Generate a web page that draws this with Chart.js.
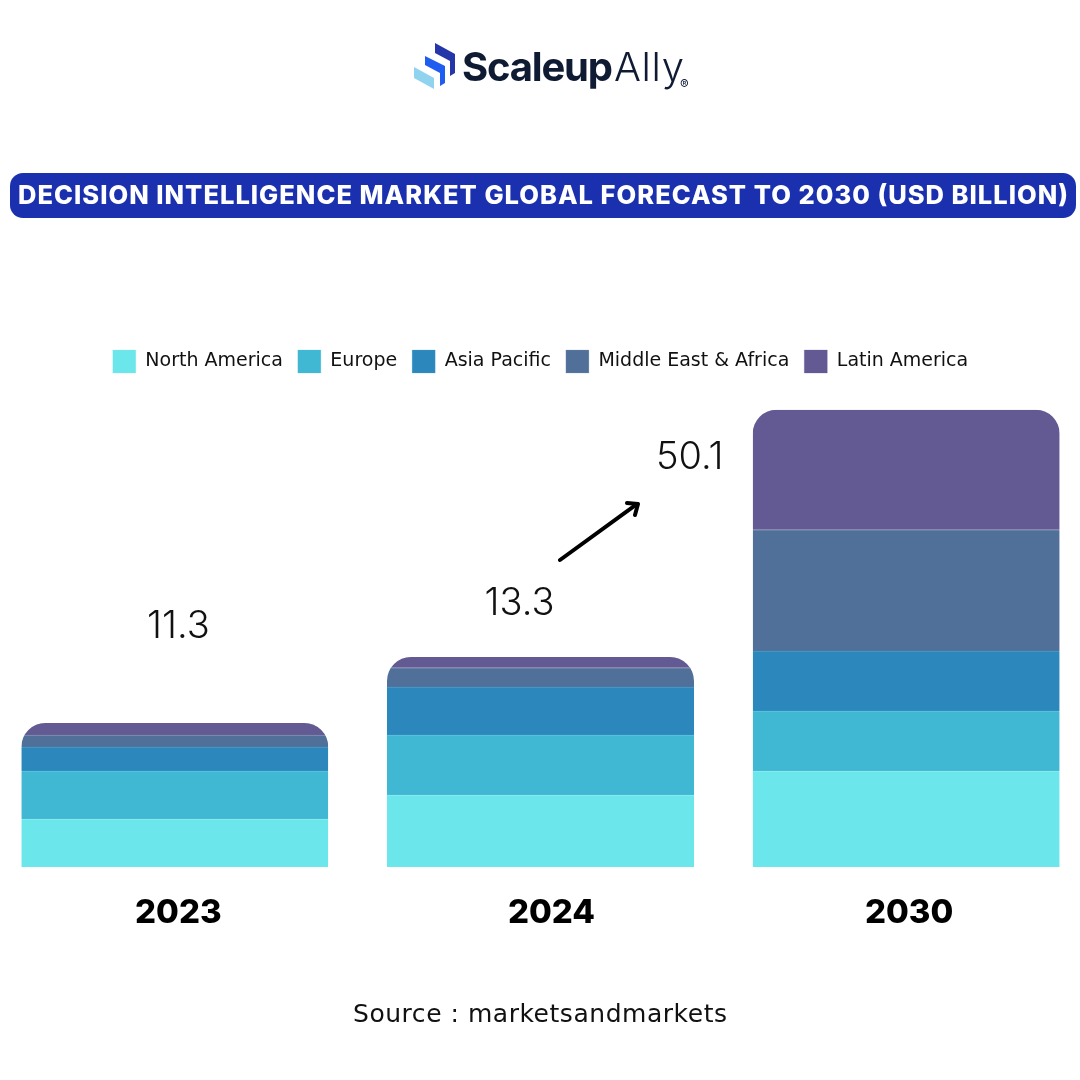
<!DOCTYPE html>
<html>
<head>
<meta charset="utf-8">
<title>Decision Intelligence Market</title>
<script src="https://cdn.jsdelivr.net/npm/chart.js@4"></script>
<style>
  html, body { margin: 0; padding: 0; background: #fff; width: 1080px; height: 1080px; overflow: hidden; }
  #chart { position: absolute; left: -21.5px; top: 335px; }
  #overlay { position: absolute; left: 0; top: 0; }
</style>
</head>
<body>
<canvas id="chart" width="1120" height="623"></canvas>
<svg id="overlay" width="1080" height="1080" viewBox="0 0 1080 1080">
  <polygon points="414,67 434,78 434,89 414,78" fill="#8FD3EE"/>
  <polygon points="425,56 445,66 445,83 440,86 440,73 425,65" fill="#1F5CF0"/>
  <polygon points="435,43 455,54 455,73 450,76 450,61 435,53" fill="#2536A8"/>
  <text x="462" y="81" font-family="Inter" font-weight="700" font-size="40" fill="#0F1A33" textLength="151">Scaleup</text>
  <text x="614" y="81" font-family="Inter" font-weight="300" font-size="40" fill="#0F1A33" textLength="70">Ally</text>
  <text x="680" y="89" font-family="Inter" font-size="13" fill="#0F1A33">®</text>

  <rect x="10" y="173" width="1066" height="45" rx="13" fill="#1A30AE"/>
  <text x="18" y="204" font-family="Inter" font-weight="800" font-size="25.5" fill="#fff" textLength="1050">DECISION INTELLIGENCE MARKET GLOBAL FORECAST TO 2030 (USD BILLION)</text>

  <g stroke="#000" stroke-width="4" fill="none" stroke-linecap="round" stroke-linejoin="round">
    <line x1="560" y1="560" x2="637" y2="504"/>
    <polyline points="627,503 638,504 635,515"/>
  </g>

  <text x="353" y="1022" font-family="DejaVu Sans" font-size="25" fill="#111" textLength="374">Source : marketsandmarkets</text>
</svg>
<script>
const categories = ['2023', '2024', '2030'];
const totals = ['11.3', '13.3', '50.1'];
const northAmerica = [4, 6, 8];
const europe = [4, 5, 5];
const asiaPacific = [2, 4, 5];
const middleEastAfrica = [1, 1.6, 10.1];
const latinAmerica = [1, 0.9, 10];

// label placement relative to each bar
const totalOffsets = [[3.5, -96], [-21, -53], [-216.5, 48]];
const tickOffsets = [3.5, 11, 3];

function series(label, data, color, seam) {
    return {
        label: label,
        data: data,
        backgroundColor: color,
        borderColor: seam,
        borderWidth: { top: 1, left: 0, right: 0, bottom: 0 },
        borderSkipped: false,
        stack: 'a',
        barThickness: 307
    };
}

function stackTop(i) {
    return northAmerica[i] + europe[i] + asiaPacific[i] + middleEastAfrica[i] + latinAmerica[i];
}

// one rounded shape per stack, the corners run across several segments
const roundedStacks = {
    id: 'roundedStacks',
    beforeDatasetsDraw(chart) {
        const ctx = chart.ctx, x = chart.scales.x, y = chart.scales.y;
        ctx.save();
        ctx.beginPath();
        categories.forEach((c, i) => {
            const cx = x.getPixelForValue(i);
            ctx.roundRect(cx - 153.5, y.getPixelForValue(stackTop(i)), 307,
                y.getPixelForValue(0) - y.getPixelForValue(stackTop(i)), [24, 24, 0, 0]);
        });
        ctx.clip();
    },
    afterDatasetsDraw(chart) {
        chart.ctx.restore();
    }
};

const barLabels = {
    id: 'barLabels',
    afterDraw(chart) {
        const ctx = chart.ctx, x = chart.scales.x, y = chart.scales.y;
        ctx.save();
        ctx.textAlign = 'center';
        ctx.textBaseline = 'middle';
        categories.forEach((c, i) => {
            const cx = x.getPixelForValue(i);
            ctx.fillStyle = '#000';
            ctx.font = '800 33px Inter';
            ctx.fillText(c, cx + tickOffsets[i], y.getPixelForValue(0) + 46);
            ctx.fillStyle = '#111';
            ctx.font = '300 38px Inter';
            ctx.fillText(totals[i], cx + totalOffsets[i][0], y.getPixelForValue(stackTop(i)) + totalOffsets[i][1]);
        });
        ctx.restore();
    }
};

new Chart(document.getElementById('chart'), {
    type: 'bar',
    data: {
        labels: categories,
        datasets: [
            series('North America', northAmerica, '#6BE6EA', '#8CEBEE'),
            series('Europe', europe, '#40B7D3', '#5CC4DC'),
            series('Asia Pacific', asiaPacific, '#2C88BC', '#4A9CCB'),
            series('Middle East & Africa', middleEastAfrica, '#517099', '#7F95B4'),
            series('Latin America', latinAmerica, '#645A93', '#645A93')
        ]
    },
    plugins: [roundedStacks, barLabels],
    options: {
        responsive: false,
        animation: false,
        devicePixelRatio: 1,
        layout: { padding: { left: 13, right: 10, top: 0, bottom: 83 } },
        scales: {
            x: {
                stacked: true,
                grid: { display: false },
                border: { display: false },
                ticks: { display: false }
            },
            y: {
                stacked: true,
                display: false,
                min: 0,
                max: 40.33
            }
        },
        plugins: {
            tooltip: { enabled: false },
            legend: {
                position: 'top',
                labels: {
                    boxWidth: 23,
                    boxHeight: 23,
                    padding: 15,
                    color: '#111',
                    font: { family: 'DejaVu Sans', size: 19 }
                }
            }
        }
    }
});
</script>
</body>
</html>
